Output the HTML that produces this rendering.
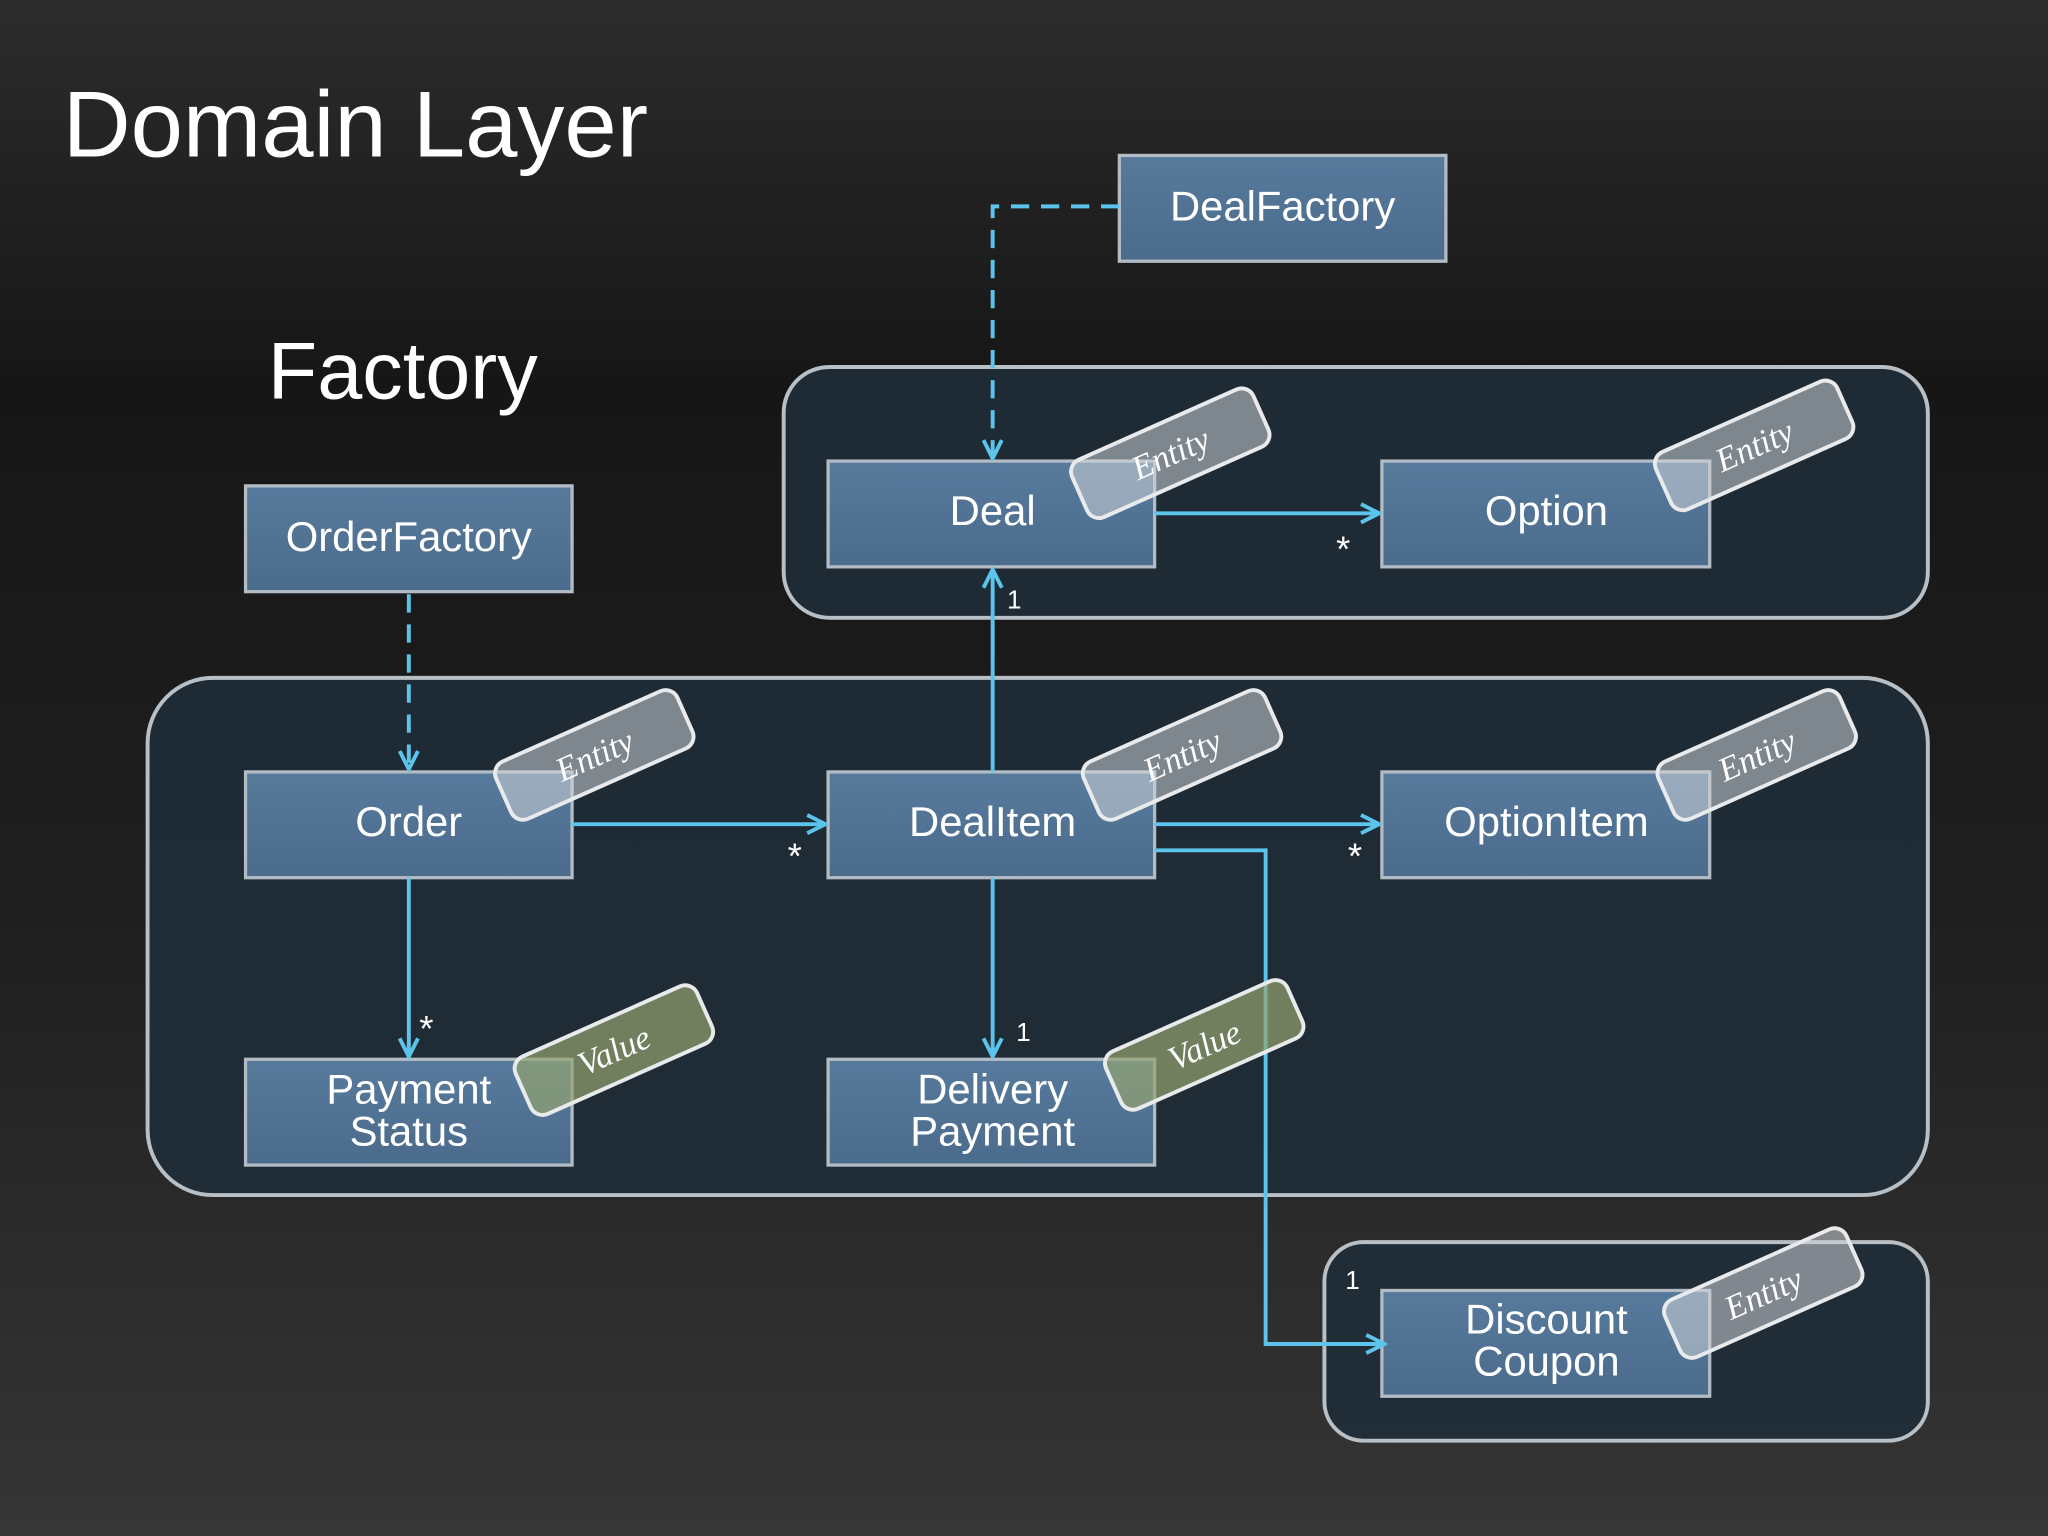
<!DOCTYPE html>
<html><head><meta charset="utf-8"><style>
html,body{margin:0;padding:0;background:#1c1c1c;}
svg{display:block;}
</style></head><body>
<svg width="2048" height="1536" viewBox="0 0 1568 1176" xmlns="http://www.w3.org/2000/svg">
<defs>
<linearGradient id="bg" x1="0" y1="0" x2="0" y2="1">
<stop offset="0" stop-color="#2c2c2c"/><stop offset="0.25" stop-color="#161616"/><stop offset="0.6" stop-color="#1f1f1f"/><stop offset="1" stop-color="#363636"/>
</linearGradient>
<linearGradient id="box" x1="0" y1="0" x2="0" y2="1">
<stop offset="0" stop-color="#577a9c"/><stop offset="1" stop-color="#4b6b8c"/>
</linearGradient>
<marker id="ar" viewBox="0 0 20 20" refX="18" refY="10" markerWidth="20" markerHeight="20" markerUnits="userSpaceOnUse" orient="auto">
<polyline points="4,3 18,10 4,17" fill="none" stroke="#5cc3ea" stroke-width="3"/>
</marker>
</defs>
<rect width="1568" height="1176" fill="url(#bg)"/>
<g font-family="Liberation Sans, sans-serif" fill="#fff">
<text x="48" y="120" font-size="72">Domain Layer</text>
<text x="205" y="305" font-size="62">Factory</text>
</g>
<g fill="#1f2c37" fill-opacity="0.9" stroke="#b8c0c6" stroke-width="3">
<rect x="600" y="281" width="876" height="192" rx="35"/>
<rect x="113" y="519" width="1363" height="396" rx="50"/>
<rect x="1014" y="951" width="462" height="152" rx="30"/>
</g>
<g fill="url(#box)" stroke="#b3bcc4" stroke-width="2.5">
<rect x="857" y="119" width="250" height="81"/>
<rect x="188" y="372" width="250" height="81"/>
<rect x="634" y="353" width="250" height="81"/>
<rect x="1058" y="353" width="251" height="81"/>
<rect x="188" y="591" width="250" height="81"/>
<rect x="634" y="591" width="250" height="81"/>
<rect x="1058" y="591" width="251" height="81"/>
<rect x="188" y="811" width="250" height="81"/>
<rect x="634" y="811" width="250" height="81"/>
<rect x="1058" y="988" width="251" height="81"/>
</g>
<g fill="none" stroke="#5cc3ea" stroke-width="3">
<polyline points="857,158 760,158 760,351" stroke-dasharray="14,9" marker-end="url(#ar)"/>
<polyline points="313,455 313,589" stroke-dasharray="14,9" marker-end="url(#ar)"/>
<polyline points="884,393 1056,393" marker-end="url(#ar)"/>
<polyline points="760,591 760,436" marker-end="url(#ar)"/>
<polyline points="438,631 632,631" marker-end="url(#ar)"/>
<polyline points="884,631 1056,631" marker-end="url(#ar)"/>
<polyline points="884,651 969,651 969,1029 1060,1029" marker-end="url(#ar)"/>
<polyline points="313,672 313,809" marker-end="url(#ar)"/>
<polyline points="760,672 760,809" marker-end="url(#ar)"/>
</g>
<g font-family="Liberation Sans, sans-serif" fill="#fff" font-size="20">
<text x="1023" y="430" font-size="28">*</text><text x="771" y="466">1</text><text x="603" y="665" font-size="28">*</text>
<text x="1032" y="665" font-size="28">*</text><text x="1030" y="987">1</text><text x="321" y="797" font-size="28">*</text><text x="778" y="797">1</text>
</g>
<g font-family="Liberation Sans, sans-serif" fill="#fff" font-size="32" text-anchor="middle">
<text x="982" y="169">DealFactory</text>
<text x="313" y="422">OrderFactory</text>
<text x="760" y="402">Deal</text>
<text x="1184" y="402">Option</text>
<text x="313" y="640">Order</text>
<text x="760" y="640">DealItem</text>
<text x="1184" y="640">OptionItem</text>
<text x="313" y="845">Payment</text><text x="313" y="877">Status</text>
<text x="760" y="845">Delivery</text><text x="760" y="877">Payment</text>
<text x="1184" y="1021">Discount</text><text x="1184" y="1053">Coupon</text>
</g>
<g font-family="Liberation Serif, serif" font-style="italic" font-size="26" text-anchor="middle" fill="#fff">
<g transform="translate(896,347) rotate(-24)"><rect x="-76" y="-24" width="152" height="48" rx="10" fill="#d0d4d8" fill-opacity="0.55" stroke="#e8eaec" stroke-width="3"/><text y="9">Entity</text></g>
<g transform="translate(1343,341) rotate(-24)"><rect x="-76" y="-24" width="152" height="48" rx="10" fill="#d0d4d8" fill-opacity="0.55" stroke="#e8eaec" stroke-width="3"/><text y="9">Entity</text></g>
<g transform="translate(455,578) rotate(-24)"><rect x="-76" y="-24" width="152" height="48" rx="10" fill="#d0d4d8" fill-opacity="0.55" stroke="#e8eaec" stroke-width="3"/><text y="9">Entity</text></g>
<g transform="translate(905,578) rotate(-24)"><rect x="-76" y="-24" width="152" height="48" rx="10" fill="#d0d4d8" fill-opacity="0.55" stroke="#e8eaec" stroke-width="3"/><text y="9">Entity</text></g>
<g transform="translate(1345,578) rotate(-24)"><rect x="-76" y="-24" width="152" height="48" rx="10" fill="#d0d4d8" fill-opacity="0.55" stroke="#e8eaec" stroke-width="3"/><text y="9">Entity</text></g>
<g transform="translate(1350,990) rotate(-24)"><rect x="-76" y="-24" width="152" height="48" rx="10" fill="#d0d4d8" fill-opacity="0.55" stroke="#e8eaec" stroke-width="3"/><text y="9">Entity</text></g>
<g transform="translate(470,804) rotate(-24)"><rect x="-76" y="-24" width="152" height="48" rx="10" fill="#94a470" fill-opacity="0.7" stroke="#e8eaec" stroke-width="3"/><text y="9">Value</text></g>
<g transform="translate(922,800) rotate(-24)"><rect x="-76" y="-24" width="152" height="48" rx="10" fill="#94a470" fill-opacity="0.7" stroke="#e8eaec" stroke-width="3"/><text y="9">Value</text></g>
</g>
</svg>
</body></html>
